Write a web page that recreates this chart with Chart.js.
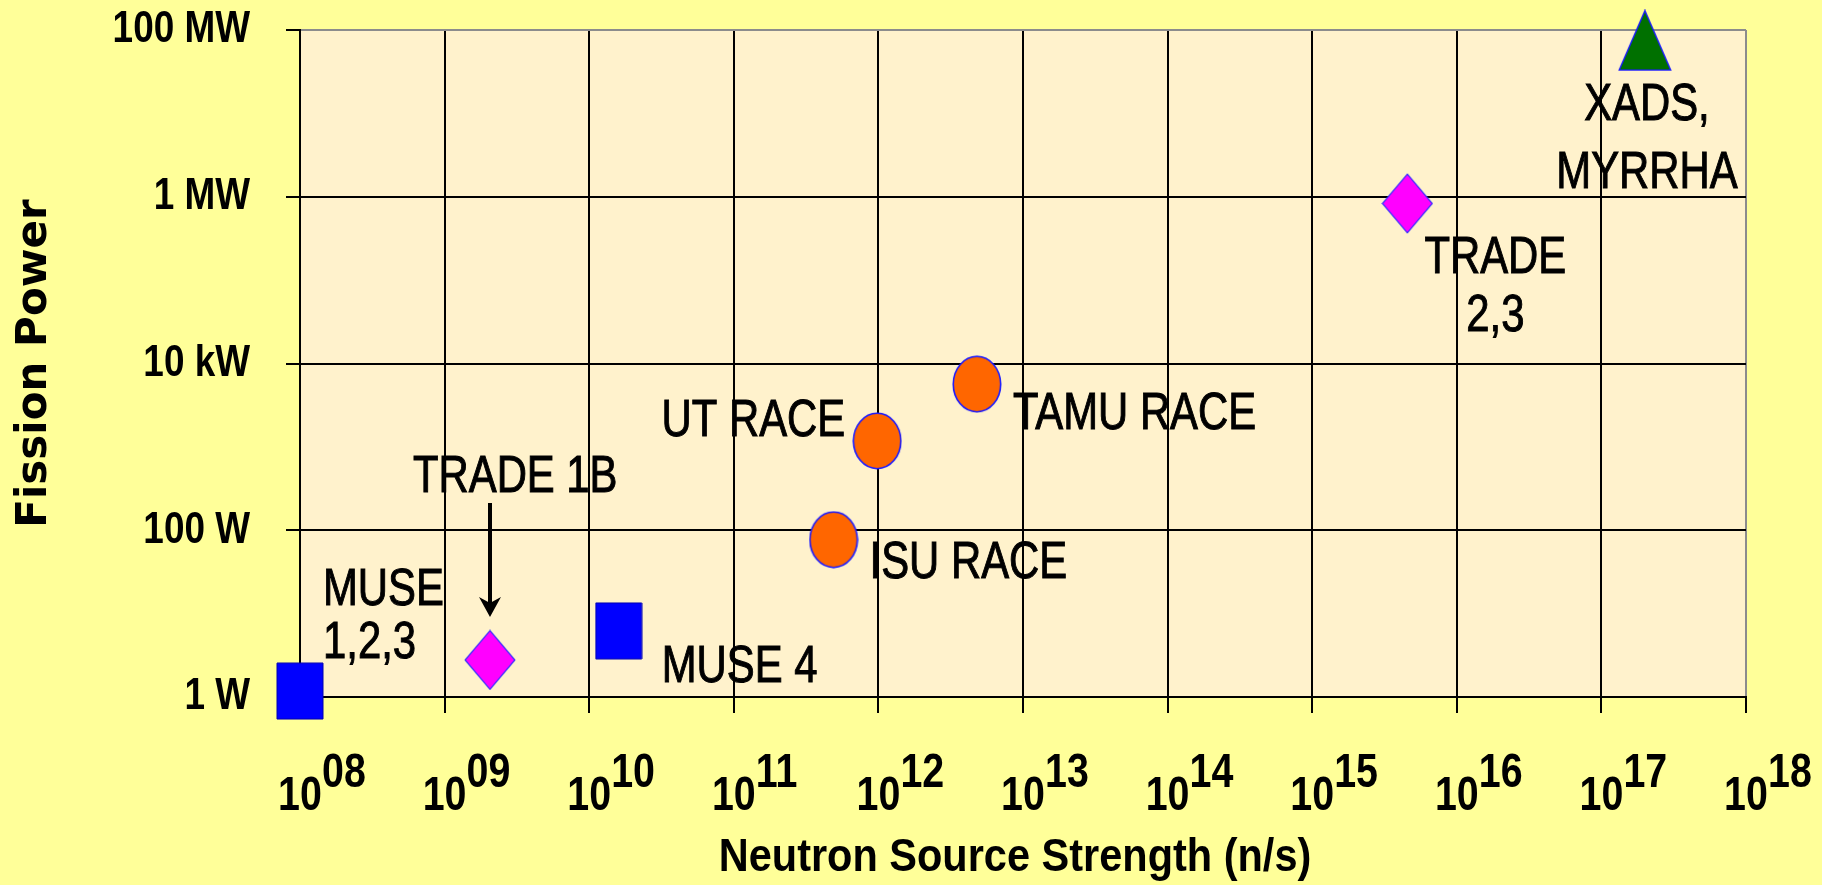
<!DOCTYPE html>
<html>
<head>
<meta charset="utf-8">
<script src="https://cdn.jsdelivr.net/npm/chart.js@4.4.1/dist/chart.umd.min.js"></script>
<style>
html,body{margin:0;padding:0;background:#FFFF99;overflow:hidden;}
canvas{display:block;}
</style>
</head>
<body>
<canvas id="c" width="1822" height="885"></canvas>
<script>
// ---------------- data ----------------
const museNames = ['MUSE 1,2,3', 'MUSE 4'];
const museX = [1.0e8, 1.6e10];
const museY = [1.18, 6.2];

const tradeNames = ['TRADE 1B', 'TRADE 2,3'];
const tradeX = [2.06e9, 4.55e15];
const tradeY = [2.78, 8.3e5];

const raceNames = ['ISU RACE', 'UT RACE', 'TAMU RACE'];
const raceX = [4.9e11, 9.8e11, 4.8e12];
const raceY = [77, 1180, 5650];

const xadsNames = ['XADS, MYRRHA'];
const xadsX = [2.0e17];
const xadsY = [7.5e7];

const xTickValues = [1e8, 1e9, 1e10, 1e11, 1e12, 1e13, 1e14, 1e15, 1e16, 1e17, 1e18];
const xTickBase = '10';
const xTickExponents = ['08', '09', '10', '11', '12', '13', '14', '15', '16', '17', '18'];
const yTickValues = [1, 100, 1e4, 1e6, 1e8];
const yTickLabels = ['1 W', '100 W', '10 kW', '1 MW', '100 MW'];

const xTitle = 'Neutron Source Strength (n/s)';
const yTitle = 'Fission Power';

// ---------------- styles ----------------
const SANS = '"Liberation Sans", Arial, sans-serif';
const SX = 0.82; // horizontal condensing of the narrow lettering

function marker(shape, w, h, fill, stroke, lw) {
  const c = document.createElement('canvas');
  c.width = w; c.height = h;
  const g = c.getContext('2d');
  const p = lw / 2 + 0.5;
  g.beginPath();
  if (shape === 'rect') g.rect(p, p, w - 2 * p, h - 2 * p);
  else if (shape === 'diamond') { g.moveTo(w / 2, p); g.lineTo(w - p, h / 2); g.lineTo(w / 2, h - p); g.lineTo(p, h / 2); g.closePath(); }
  else if (shape === 'ellipse') g.ellipse(w / 2, h / 2, w / 2 - p, h / 2 - p, 0, 0, Math.PI * 2);
  else if (shape === 'triangle') { g.moveTo(w / 2, p); g.lineTo(w - p, h - p); g.lineTo(p, h - p); g.closePath(); }
  g.fillStyle = fill; g.fill();
  if (lw > 0) { g.lineWidth = lw; g.strokeStyle = stroke; g.stroke(); }
  return c;
}

const squareMarker = marker('rect', 48, 58, '#0000FF', '#0000B0', 1);
const diamondMarker = marker('diamond', 52, 61, '#FF00FF', '#3030FF', 1.2);
const ellipseMarker = marker('ellipse', 50, 58, '#FF6600', '#1A1AFF', 1.6);
const triangleMarker = marker('triangle', 54, 62, '#007000', '#1A1AFF', 1.4);

// label layout relative to each marker (pixels)
const labelLayout = {
  'MUSE 1,2,3': { lines: ['MUSE', '1,2,3'], align: 'left', dx: 23, dy: [-86, -33] },
  'MUSE 4': { lines: ['MUSE 4'], align: 'left', dx: 43, dy: [51] },
  'TRADE 1B': { lines: ['TRADE 1B'], align: 'left', dx: -77, dy: [-168], arrow: [-157, -43] },
  'TRADE 2,3': { lines: ['TRADE', '2,3'], align: 'center', dx: 88, dy: [70, 128] },
  'ISU RACE': { lines: ['ISU RACE'], align: 'left', dx: 36, dy: [38] },
  'UT RACE': { lines: ['UT RACE'], align: 'right', dx: -32, dy: [-5] },
  'TAMU RACE': { lines: ['TAMU RACE'], align: 'left', dx: 36, dy: [45] },
  'XADS, MYRRHA': { lines: ['XADS,', 'MYRRHA'], align: 'center', dx: 2, dy: [80, 148] }
};

function scaledText(ctx, text, x, y, align, baseline, sx, sy, strokeW) {
  ctx.save();
  ctx.translate(x, y);
  ctx.scale(sx, sy);
  ctx.textAlign = align;
  ctx.textBaseline = baseline;
  ctx.fillText(text, 0, 0);
  if (strokeW) { ctx.lineWidth = strokeW; ctx.strokeText(text, 0, 0); }
  ctx.restore();
}

function pts(xs, ys) { return xs.map((x, i) => ({ x: x, y: ys[i] })); }

const plotBg = {
  id: 'plotBg',
  beforeDraw(chart) {
    const a = chart.chartArea, ctx = chart.ctx;
    ctx.save();
    ctx.fillStyle = '#FFF2CC';
    ctx.fillRect(a.left, a.top, a.right - a.left, a.bottom - a.top);
    ctx.restore();
  }
};

const axisText = {
  id: 'axisText',
  afterDraw(chart) {
    const xs = chart.scales.x, ys = chart.scales.y, ctx = chart.ctx, a = chart.chartArea;
    ctx.save();
    ctx.fillStyle = '#000';
    ctx.font = 'bold 48px ' + SANS;
    xTickValues.forEach((v, i) => {
      const px = xs.getPixelForValue(v);
      scaledText(ctx, xTickBase, px, a.bottom + 113, 'center', 'alphabetic', SX, 1);
      scaledText(ctx, xTickExponents[i], px + 22, a.bottom + 90, 'left', 'alphabetic', SX, 1);
    });
    ctx.font = 'bold 45px ' + SANS;
    yTickValues.forEach((v, i) => {
      const py = ys.getPixelForValue(v);
      scaledText(ctx, yTickLabels[i], a.left - 50, py, 'right', 'middle', SX, 1);
    });
    ctx.font = 'bold 41.5px ' + SANS;
    scaledText(ctx, xTitle, (a.left + a.right) / 2 - 8, a.bottom + 161, 'center', 'middle', 1, 1.1);
    ctx.restore();
  }
};

const pointLabels = {
  id: 'pointLabels',
  afterDatasetsDraw(chart) {
    const ctx = chart.ctx;
    ctx.save();
    ctx.fillStyle = '#000';
    ctx.strokeStyle = '#000';
    ctx.font = '51px ' + SANS;
    chart.data.datasets.forEach((ds, di) => {
      const meta = chart.getDatasetMeta(di);
      meta.data.forEach((pt, i) => {
        const a = labelLayout[ds.names[i]];
        if (!a) return;
        a.lines.forEach((t, k) => scaledText(ctx, t, pt.x + a.dx, pt.y + a.dy[k], a.align, 'alphabetic', SX, 1, 1));
        if (a.arrow) {
          const y0 = pt.y + a.arrow[0], y1 = pt.y + a.arrow[1];
          ctx.lineWidth = 4;
          ctx.beginPath();
          ctx.moveTo(pt.x, y0);
          ctx.lineTo(pt.x, y1 - 14);
          ctx.stroke();
          ctx.beginPath();
          ctx.moveTo(pt.x - 11, y1 - 20);
          ctx.lineTo(pt.x, y1 - 14);
          ctx.lineTo(pt.x + 11, y1 - 20);
          ctx.lineTo(pt.x, y1);
          ctx.closePath();
          ctx.fill();
        }
      });
    });
    ctx.restore();
  }
};

const common = { showLine: false, clip: false, radius: 26, borderWidth: 0 };

new Chart(document.getElementById('c'), {
  type: 'scatter',
  data: {
    datasets: [
      Object.assign({ label: 'MUSE', names: museNames, data: pts(museX, museY), pointStyle: squareMarker }, common),
      Object.assign({ label: 'TRADE', names: tradeNames, data: pts(tradeX, tradeY), pointStyle: diamondMarker }, common),
      Object.assign({ label: 'RACE', names: raceNames, data: pts(raceX, raceY), pointStyle: ellipseMarker }, common),
      Object.assign({ label: 'XADS', names: xadsNames, data: pts(xadsX, xadsY), pointStyle: triangleMarker }, common)
    ]
  },
  options: {
    responsive: false,
    animation: false,
    devicePixelRatio: 1,
    events: [],
    layout: { padding: { top: 30, right: 76, left: 0, bottom: 0 } },
    plugins: { legend: { display: false }, tooltip: { enabled: false } },
    scales: {
      x: {
        type: 'logarithmic', position: 'bottom', min: 1e8, max: 1e18,
        afterBuildTicks: s => { s.ticks = xTickValues.map(v => ({ value: v })); },
        afterFit: s => { s.height = 188; },
        ticks: { display: false },
        grid: {
          color: c => (c.tick && c.tick.value === 1e18) ? '#8C8C8C' : '#000000',
          lineWidth: 2, tickLength: 16, tickColor: '#000000', drawTicks: true
        },
        border: { display: true, color: '#000000', width: 2 },
        title: { display: false, text: xTitle }
      },
      y: {
        type: 'logarithmic', position: 'left', min: 1, max: 1e8,
        afterBuildTicks: s => { s.ticks = yTickValues.map(v => ({ value: v })); },
        afterFit: s => { s.width = 300; },
        ticks: { display: false },
        grid: {
          color: c => (c.tick && c.tick.value === 1e8) ? '#8C8C8C' : '#000000',
          lineWidth: 2, tickLength: 14, tickColor: '#000000', drawTicks: true
        },
        border: { display: true, color: '#000000', width: 2 },
        title: {
          display: true, text: yTitle, color: '#000',
          font: { family: '"DejaVu Sans", Verdana, sans-serif', size: 42, weight: 'bold', lineHeight: 1 },
          padding: { top: 14, bottom: 0 }
        }
      }
    }
  },
  plugins: [plotBg, axisText, pointLabels]
});
</script>
</body>
</html>
